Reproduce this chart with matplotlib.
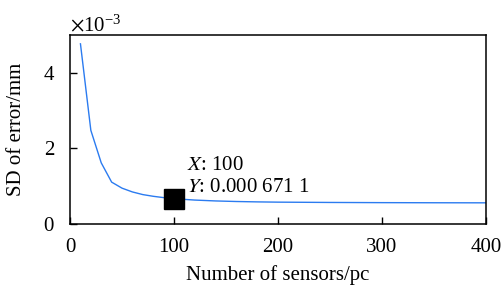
import matplotlib
matplotlib.use("Agg")
import matplotlib.pyplot as plt

# sensors count vs SD of error
n_sensors = [10, 20, 30, 40, 50, 60, 70, 80, 90, 100,
             120, 140, 160, 180, 200, 250, 300, 350, 400]
sd_error = [4.77e-3, 2.48e-3, 1.62e-3, 1.11e-3, 0.95e-3, 0.85e-3, 0.78e-3,
            0.735e-3, 0.70e-3, 0.6711e-3,
            0.635e-3, 0.612e-3, 0.597e-3, 0.587e-3, 0.58e-3,
            0.572e-3, 0.567e-3, 0.564e-3, 0.562e-3]

pick_x = 100
pick_y = 0.0006711

plt.rcParams['font.family'] = ['Liberation Serif', 'DejaVu Serif']
plt.rcParams['mathtext.fontset'] = 'stix'
plt.rcParams['font.size'] = 15

fig = plt.figure(figsize=(5.04, 2.88), dpi=100)
ax = fig.add_axes([0.139, 0.222, 0.825, 0.656])

ax.plot(n_sensors, sd_error, color='#2b7bf0', lw=1.0)
ax.plot([pick_x], [pick_y], marker='s', ms=14.4, color='black', ls='none')

ax.annotate('$\\it{X}$: 100', (pick_x, pick_y), xytext=(9, 24),
            textcoords='offset points', va='center')
ax.annotate('$\\it{Y}$: 0.000 671 1', (pick_x, pick_y), xytext=(9, 8),
            textcoords='offset points', va='center')

ax.set_xlim(0, 400)
ax.set_ylim(0, 5e-3)
ax.set_xticks([0, 100, 200, 300, 400])
ax.set_yticks([0, 2e-3, 4e-3])
ax.ticklabel_format(axis='y', style='sci', scilimits=(0, 0), useMathText=True)
ax.yaxis.get_offset_text().set_fontsize(15)

ax.tick_params(direction='in', length=5, width=1)
ax.tick_params(axis='x', pad=10)
ax.tick_params(axis='y', pad=11)
for s in ax.spines.values():
    s.set_linewidth(1.1)

ax.set_xlabel('Number of sensors/pc', labelpad=6)
ax.set_ylabel('SD of error/mm', labelpad=12)

fig.savefig('out.png', dpi=100)
